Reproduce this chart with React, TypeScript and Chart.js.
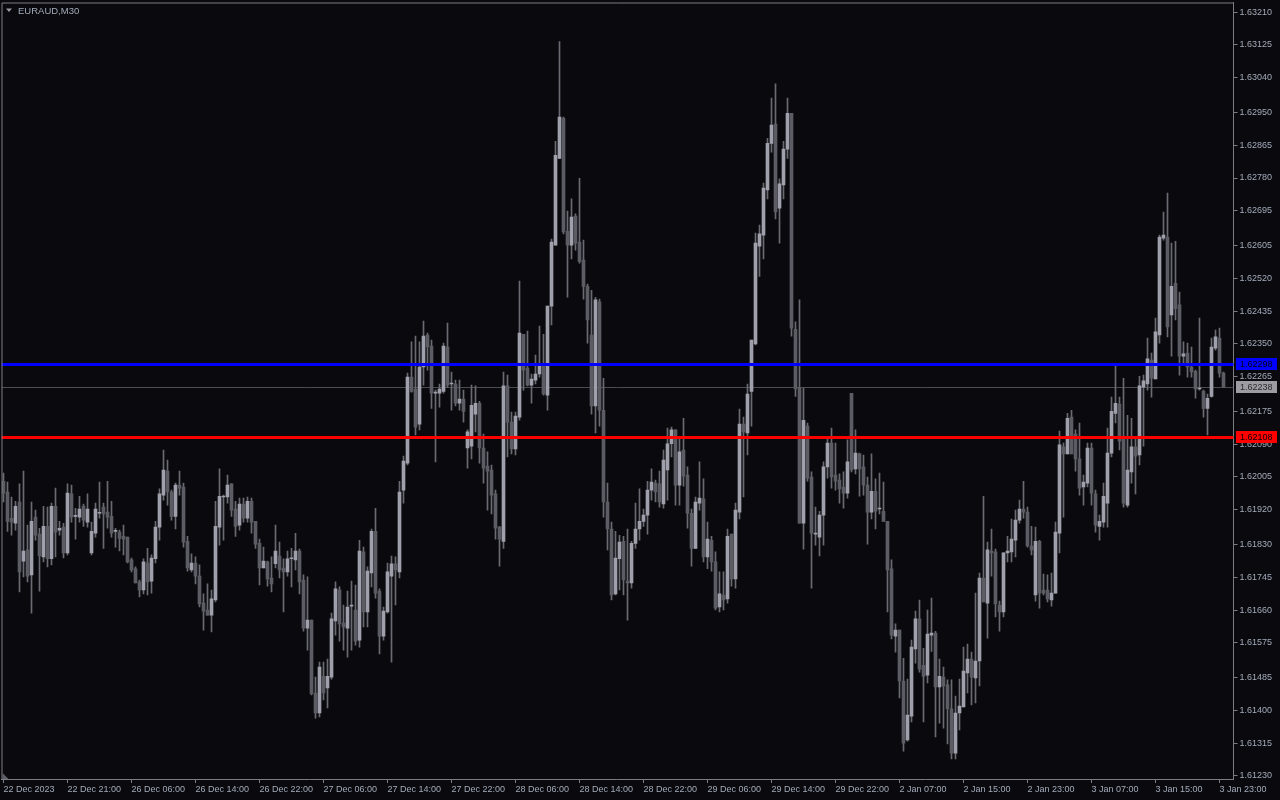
import React, { useEffect, useRef } from 'react';
import { Chart, registerables } from 'chart.js';

Chart.register(...registerables);

const TITLE = 'EURAUD,M30';
const BG = '#0a0a0e';
const AXIS_COLOR = '#7c7c84';
const TEXT_COLOR = '#a3abba';
const BULL_COLOR = '#a0a0ac';
const BEAR_COLOR = '#5c5c64';
const WICK_COLOR = '#6a6a72';
const FONT_FAMILY = "'Liberation Sans', Arial, sans-serif";

const SLOT_COUNT = 308;
const BARS_PER_LABEL = 16;
const X_TICK_LABELS = [
  '22 Dec 2023', '22 Dec 21:00', '26 Dec 06:00', '26 Dec 14:00', '26 Dec 22:00',
  '27 Dec 06:00', '27 Dec 14:00', '27 Dec 22:00', '28 Dec 06:00', '28 Dec 14:00',
  '28 Dec 22:00', '29 Dec 06:00', '29 Dec 14:00', '29 Dec 22:00', '2 Jan 07:00',
  '2 Jan 15:00', '2 Jan 23:00', '3 Jan 07:00', '3 Jan 15:00', '3 Jan 23:00',
];
const Y_TICKS = [
  1.6321, 1.63125, 1.6304, 1.6295, 1.62865, 1.6278, 1.62695, 1.62605, 1.6252, 1.62435,
  1.6235, 1.62265, 1.62175, 1.6209, 1.62005, 1.6192, 1.6183, 1.61745, 1.6166, 1.61575,
  1.61485, 1.614, 1.61315, 1.6123,
];
const Y_MIN = 1.61222;
const Y_MAX = 1.63235;

const LEVEL_BLUE = 1.62298;
const LEVEL_RED = 1.62108;
const LAST_PRICE = 1.62238;

const OPEN = [
  1.61994, 1.61966, 1.61898, 1.61885, 1.6194, 1.61787, 1.61816, 1.61751, 1.61901, 1.61857,
  1.61798, 1.61877, 1.61793, 1.61929, 1.61867, 1.61875, 1.61808, 1.61961, 1.61903, 1.61901,
  1.61929, 1.61888, 1.61808, 1.61859, 1.61911, 1.61927, 1.61914, 1.61903, 1.61864, 1.61862,
  1.61851, 1.61849, 1.6179, 1.61767, 1.61733, 1.61712, 1.61782, 1.61735, 1.61793, 1.61875,
  1.61958, 1.6202, 1.61966, 1.61903, 1.61984, 1.61979, 1.61838, 1.61764, 1.61782, 1.61748,
  1.61678, 1.6166, 1.61647, 1.61686, 1.61875, 1.61953, 1.61953, 1.61987, 1.61922, 1.6188,
  1.61935, 1.61898, 1.61942, 1.6189, 1.61833, 1.61769, 1.61785, 1.61743, 1.6178, 1.618,
  1.61769, 1.61759, 1.61793, 1.6179, 1.61813, 1.61738, 1.61613, 1.61634, 1.61445, 1.61393,
  1.61488, 1.61458, 1.61486, 1.61632, 1.61712, 1.61626, 1.61613, 1.6167, 1.6166, 1.61582,
  1.61811, 1.61655, 1.61756, 1.61864, 1.61709, 1.61592, 1.61655, 1.61748, 1.6178, 1.61759,
  1.61971, 1.62041, 1.62264, 1.62233, 1.62142, 1.6229, 1.62373, 1.62344, 1.62222, 1.62222,
  1.62227, 1.62342, 1.62246, 1.62246, 1.62196, 1.62207, 1.6208, 1.62085, 1.62168, 1.62196,
  1.6208, 1.62033, 1.62023, 1.61961, 1.61875, 1.61838, 1.62241, 1.62147, 1.62078, 1.6216,
  1.62375, 1.62287, 1.62243, 1.62256, 1.62272, 1.62292, 1.62217, 1.62448, 1.62606, 1.62831,
  1.62935, 1.62642, 1.62606, 1.62681, 1.62614, 1.62567, 1.62499, 1.62373, 1.62189, 1.62459,
  1.62178, 1.6194, 1.6187, 1.61702, 1.61793, 1.61838, 1.61735, 1.6173, 1.61833, 1.6187,
  1.6189, 1.61906, 1.61971, 1.61989, 1.61987, 1.61935, 1.62023, 1.62091, 1.62127, 1.61984,
  1.62075, 1.6201, 1.61911, 1.6182, 1.61937, 1.61948, 1.61798, 1.61841, 1.61785, 1.61668,
  1.61699, 1.61689, 1.61857, 1.61741, 1.61914, 1.62142, 1.62119, 1.62227, 1.6235, 1.62603,
  1.62632, 1.62749, 1.6287, 1.6292, 1.62702, 1.62762, 1.62855, 1.62948, 1.62388, 1.62235,
  1.61885, 1.62137, 1.62005, 1.61857, 1.61849, 1.61906, 1.62031, 1.62093, 1.6201, 1.61997,
  1.61979, 1.61963, 1.62222, 1.62026, 1.62065, 1.62031, 1.61984, 1.61914, 1.61968, 1.61922,
  1.61916, 1.6189, 1.61767, 1.61592, 1.61608, 1.61476, 1.61323, 1.61385, 1.61559, 1.61637,
  1.61517, 1.61491, 1.61595, 1.616, 1.61461, 1.61486, 1.61466, 1.61404, 1.61289, 1.61393,
  1.61409, 1.61497, 1.61533, 1.61484, 1.61528, 1.61743, 1.61678, 1.61813, 1.61811, 1.61673,
  1.61655, 1.61808, 1.61811, 1.61841, 1.61893, 1.61922, 1.61914, 1.61826, 1.61699, 1.61838,
  1.61712, 1.61712, 1.61686, 1.61704, 1.61859, 1.62083, 1.62065, 1.6216, 1.62116, 1.62052,
  1.61979, 1.61989, 1.6208, 1.61961, 1.61877, 1.61888, 1.61937, 1.62067, 1.6217, 1.62194,
  1.62106, 1.61932, 1.62018, 1.62083, 1.62062, 1.62238, 1.62246, 1.62308, 1.62259, 1.62373,
  1.62624, 1.62627, 1.62425, 1.62507, 1.62451, 1.62318, 1.62326, 1.6229, 1.62279, 1.62233,
  1.62227, 1.62183, 1.62214, 1.62339, 1.62365, 1.62274,
];

const HIGH = [
  1.62015, 1.61992, 1.61953, 1.61942, 1.61987, 1.6202, 1.6188, 1.6194, 1.61919, 1.61872,
  1.61929, 1.61927, 1.61937, 1.61976, 1.6189, 1.61885, 1.61987, 1.61984, 1.61924, 1.61955,
  1.61935, 1.61961, 1.61888, 1.61937, 1.61992, 1.61937, 1.61994, 1.61942, 1.61872, 1.61867,
  1.6188, 1.61849, 1.61795, 1.61772, 1.61738, 1.61793, 1.6182, 1.61803, 1.6189, 1.61974,
  1.62075, 1.62049, 1.61971, 1.61989, 1.6202, 1.61989, 1.61851, 1.61806, 1.61798, 1.61777,
  1.61702, 1.61728, 1.61712, 1.61942, 1.62026, 1.61958, 1.6201, 1.61987, 1.61942, 1.6195,
  1.6195, 1.61953, 1.6195, 1.6189, 1.61844, 1.61823, 1.61787, 1.61798, 1.6188, 1.61836,
  1.61793, 1.61813, 1.6182, 1.61859, 1.61818, 1.61751, 1.61746, 1.61634, 1.61486, 1.61525,
  1.61525, 1.61533, 1.61652, 1.61733, 1.6172, 1.61673, 1.61709, 1.61735, 1.61725, 1.61841,
  1.61823, 1.61772, 1.6187, 1.61924, 1.61715, 1.61668, 1.61782, 1.618, 1.61798, 1.61994,
  1.62059, 1.62274, 1.62355, 1.6237, 1.62355, 1.62409, 1.62378, 1.6236, 1.6223, 1.62246,
  1.62352, 1.62404, 1.62277, 1.62256, 1.62256, 1.6223, 1.62127, 1.62243, 1.62241, 1.62201,
  1.62116, 1.6207, 1.62036, 1.61971, 1.61877, 1.62277, 1.62269, 1.62173, 1.62173, 1.62513,
  1.62375, 1.62383, 1.62272, 1.62321, 1.62396, 1.62375, 1.62448, 1.62622, 1.62875, 1.63134,
  1.62938, 1.62694, 1.62726, 1.62687, 1.62779, 1.62619, 1.62505, 1.62489, 1.62471, 1.62466,
  1.62261, 1.61989, 1.61888, 1.61864, 1.61854, 1.61851, 1.6187, 1.61838, 1.61937, 1.61974,
  1.61922, 1.61994, 1.62026, 1.61997, 1.6202, 1.62075, 1.62132, 1.62134, 1.62127, 1.62106,
  1.62157, 1.62031, 1.61922, 1.61953, 1.62044, 1.62, 1.61888, 1.61851, 1.61811, 1.61759,
  1.61759, 1.6187, 1.61857, 1.61937, 1.62181, 1.6216, 1.62246, 1.6236, 1.62637, 1.62658,
  1.62767, 1.62883, 1.62987, 1.63024, 1.62778, 1.62875, 1.62987, 1.62948, 1.62407, 1.62464,
  1.62235, 1.62145, 1.62018, 1.61927, 1.61916, 1.62044, 1.62106, 1.62132, 1.62093, 1.62013,
  1.62018, 1.62101, 1.62222, 1.62127, 1.62067, 1.62062, 1.62005, 1.62065, 1.62, 1.62015,
  1.61992, 1.6189, 1.6179, 1.61624, 1.61608, 1.61535, 1.61481, 1.61582, 1.61657, 1.61686,
  1.61561, 1.6166, 1.61691, 1.61605, 1.61533, 1.61512, 1.61479, 1.61479, 1.61437, 1.61481,
  1.61564, 1.61572, 1.61551, 1.61704, 1.61756, 1.61955, 1.61836, 1.6187, 1.61818, 1.61683,
  1.61808, 1.61851, 1.61896, 1.61919, 1.61945, 1.61994, 1.61927, 1.61877, 1.61875, 1.61841,
  1.61753, 1.61751, 1.61756, 1.61888, 1.62124, 1.62093, 1.6217, 1.62178, 1.62127, 1.62145,
  1.6201, 1.62093, 1.62093, 1.61971, 1.61906, 1.61989, 1.62132, 1.62212, 1.62295, 1.62212,
  1.62261, 1.62165, 1.62157, 1.62109, 1.62266, 1.62269, 1.62365, 1.62326, 1.62417, 1.62632,
  1.62692, 1.62741, 1.62611, 1.62616, 1.62484, 1.62355, 1.62352, 1.62342, 1.62282, 1.62417,
  1.6223, 1.6222, 1.62365, 1.62386, 1.62391, 1.62277,
];

const LOW = [
  1.6194, 1.61864, 1.61854, 1.61867, 1.61707, 1.61746, 1.61733, 1.61652, 1.61841, 1.61709,
  1.61785, 1.61772, 1.61777, 1.61798, 1.61854, 1.61795, 1.61803, 1.61888, 1.61844, 1.61888,
  1.61877, 1.61875, 1.61803, 1.61849, 1.61898, 1.6182, 1.61872, 1.61849, 1.61823, 1.61813,
  1.61803, 1.61782, 1.61759, 1.6173, 1.61694, 1.61702, 1.61699, 1.61704, 1.61782, 1.61841,
  1.61945, 1.61932, 1.61893, 1.6187, 1.61958, 1.61823, 1.61761, 1.61759, 1.61728, 1.61668,
  1.61608, 1.61647, 1.61603, 1.61681, 1.61828, 1.61841, 1.61937, 1.61903, 1.61851, 1.61867,
  1.61888, 1.61888, 1.61859, 1.6182, 1.61725, 1.61769, 1.61722, 1.61707, 1.61769, 1.61743,
  1.61655, 1.61748, 1.6172, 1.61764, 1.61702, 1.61605, 1.61556, 1.6144, 1.6138, 1.61383,
  1.61427, 1.61406, 1.61481, 1.61595, 1.61579, 1.61556, 1.61538, 1.61556, 1.61569, 1.61564,
  1.61616, 1.61616, 1.6172, 1.61691, 1.61546, 1.61582, 1.61652, 1.61525, 1.61673, 1.61743,
  1.61937, 1.62036, 1.62225, 1.62114, 1.62127, 1.62243, 1.62282, 1.62183, 1.62044, 1.62186,
  1.62222, 1.62238, 1.62178, 1.62189, 1.62178, 1.62147, 1.62028, 1.62052, 1.62122, 1.62041,
  1.61989, 1.61919, 1.61909, 1.61844, 1.61774, 1.6182, 1.62057, 1.62065, 1.62062, 1.62152,
  1.6223, 1.62241, 1.62196, 1.62246, 1.62264, 1.62217, 1.62178, 1.62399, 1.62606, 1.62831,
  1.62635, 1.62471, 1.6257, 1.62593, 1.62559, 1.62466, 1.62352, 1.62168, 1.62119, 1.62137,
  1.61901, 1.61816, 1.61686, 1.61699, 1.61712, 1.61699, 1.61634, 1.61717, 1.6182, 1.61841,
  1.61877, 1.61857, 1.61945, 1.6194, 1.61927, 1.61924, 1.61945, 1.62057, 1.61932, 1.61932,
  1.61981, 1.61872, 1.61774, 1.6194, 1.61919, 1.61785, 1.61767, 1.61761, 1.6166, 1.61655,
  1.6166, 1.61678, 1.61722, 1.61717, 1.61896, 1.61953, 1.62062, 1.62137, 1.62347, 1.62525,
  1.6257, 1.62726, 1.62847, 1.62674, 1.62611, 1.62726, 1.62831, 1.6237, 1.62214, 1.61885,
  1.61818, 1.61994, 1.61717, 1.61828, 1.618, 1.61828, 1.62002, 1.61976, 1.61971, 1.61937,
  1.61924, 1.6195, 1.62018, 1.62013, 1.61955, 1.61958, 1.61831, 1.61896, 1.6187, 1.61909,
  1.6189, 1.61655, 1.61585, 1.61551, 1.61432, 1.61294, 1.6132, 1.6137, 1.61522, 1.61499,
  1.6137, 1.61471, 1.61553, 1.61331, 1.61367, 1.61354, 1.61313, 1.61274, 1.61274, 1.61349,
  1.61409, 1.61445, 1.61414, 1.61419, 1.61463, 1.61681, 1.61587, 1.61748, 1.61642, 1.61605,
  1.61642, 1.61785, 1.61785, 1.61798, 1.61885, 1.61898, 1.61823, 1.61803, 1.61683, 1.61665,
  1.61699, 1.61681, 1.6167, 1.61704, 1.61808, 1.61901, 1.62065, 1.62065, 1.6202, 1.61958,
  1.61932, 1.61979, 1.61932, 1.61862, 1.61841, 1.61875, 1.61875, 1.62057, 1.62145, 1.62075,
  1.61927, 1.61927, 1.61989, 1.61961, 1.62036, 1.62085, 1.6223, 1.62212, 1.62259, 1.62352,
  1.62619, 1.62368, 1.62318, 1.62412, 1.62269, 1.623, 1.62264, 1.62264, 1.62209, 1.6223,
  1.6216, 1.62114, 1.62212, 1.62334, 1.62264, 1.62238,
];

const CLOSE = [
  1.61963, 1.6189, 1.61888, 1.61929, 1.61759, 1.61813, 1.61748, 1.6189, 1.61854, 1.618,
  1.61877, 1.61793, 1.61929, 1.61862, 1.61872, 1.61808, 1.61963, 1.61901, 1.61903, 1.61922,
  1.61893, 1.61922, 1.61864, 1.61922, 1.61911, 1.61909, 1.61901, 1.61859, 1.61864, 1.61846,
  1.61844, 1.61785, 1.61764, 1.6173, 1.61712, 1.61785, 1.61733, 1.61795, 1.61875, 1.61961,
  1.62023, 1.61966, 1.61903, 1.61984, 1.61976, 1.61836, 1.61769, 1.61782, 1.61748, 1.61676,
  1.61657, 1.61647, 1.61689, 1.61877, 1.61955, 1.61953, 1.61984, 1.61919, 1.61877, 1.61935,
  1.61898, 1.61942, 1.61888, 1.61831, 1.61769, 1.61787, 1.61741, 1.61728, 1.61813, 1.61764,
  1.61759, 1.61793, 1.61793, 1.61813, 1.61733, 1.61613, 1.61634, 1.61443, 1.61393, 1.61512,
  1.61445, 1.61488, 1.61637, 1.61715, 1.61624, 1.61616, 1.61668, 1.6167, 1.61579, 1.61813,
  1.61655, 1.61761, 1.61864, 1.61704, 1.61592, 1.61657, 1.61759, 1.6178, 1.61764, 1.61966,
  1.62046, 1.62264, 1.62227, 1.62134, 1.6229, 1.6237, 1.62342, 1.62222, 1.62225, 1.62233,
  1.62344, 1.62243, 1.62246, 1.62196, 1.62207, 1.62175, 1.62122, 1.62191, 1.62196, 1.6208,
  1.62028, 1.6202, 1.61958, 1.61872, 1.61844, 1.62241, 1.62147, 1.62078, 1.62163, 1.62378,
  1.62282, 1.62243, 1.62259, 1.62272, 1.62292, 1.6222, 1.62448, 1.62614, 1.62839, 1.62938,
  1.6264, 1.62606, 1.62679, 1.62611, 1.62564, 1.62499, 1.62412, 1.62189, 1.62464, 1.62178,
  1.6194, 1.6187, 1.61699, 1.61795, 1.61836, 1.61738, 1.6173, 1.61833, 1.6187, 1.6189,
  1.61906, 1.61971, 1.61992, 1.61966, 1.6194, 1.62049, 1.62091, 1.62127, 1.61984, 1.6207,
  1.62007, 1.61911, 1.6182, 1.6194, 1.6195, 1.61798, 1.61844, 1.61785, 1.61665, 1.61702,
  1.61686, 1.61851, 1.61741, 1.61919, 1.62142, 1.62122, 1.6222, 1.6236, 1.62611, 1.62635,
  1.62754, 1.6287, 1.62917, 1.62692, 1.62765, 1.62855, 1.62948, 1.62391, 1.62233, 1.61885,
  1.62152, 1.62002, 1.61859, 1.61857, 1.61906, 1.62031, 1.62093, 1.62005, 1.61994, 1.61974,
  1.61963, 1.62044, 1.62023, 1.62067, 1.62026, 1.61984, 1.61914, 1.61968, 1.61916, 1.61922,
  1.6189, 1.61764, 1.61595, 1.61608, 1.61476, 1.61315, 1.61388, 1.61564, 1.61637, 1.61507,
  1.61488, 1.61598, 1.616, 1.61461, 1.61488, 1.61463, 1.61404, 1.61289, 1.61393, 1.61411,
  1.61502, 1.61533, 1.61486, 1.61528, 1.61743, 1.61681, 1.61816, 1.61808, 1.61676, 1.61655,
  1.61808, 1.61813, 1.61844, 1.61893, 1.61922, 1.61914, 1.61826, 1.61816, 1.61838, 1.61704,
  1.61704, 1.61689, 1.61704, 1.61862, 1.62088, 1.62065, 1.62157, 1.62065, 1.62052, 1.61976,
  1.61992, 1.6208, 1.61963, 1.6188, 1.6189, 1.61955, 1.62067, 1.62175, 1.62196, 1.62098,
  1.61937, 1.62023, 1.62083, 1.62059, 1.62241, 1.62254, 1.62311, 1.62261, 1.62381, 1.62627,
  1.62632, 1.62394, 1.62499, 1.62441, 1.62318, 1.62324, 1.6229, 1.62277, 1.62233, 1.62233,
  1.62183, 1.62209, 1.62342, 1.62368, 1.62274, 1.62238,
];

const fmt = (v: number) => v.toFixed(5);

export default function App() {
  const canvasRef = useRef<HTMLCanvasElement | null>(null);

  useEffect(() => {
    document.body.style.margin = '0';
    document.body.style.background = BG;
    const canvas = canvasRef.current;
    if (!canvas) return;

    const slots = Array.from({ length: SLOT_COUNT }, (_, i) => String(i));
    const bodies = OPEN.map((o, i) => [o, CLOSE[i]]);
    const wicks = OPEN.map((o, i) => [
      Math.min(LOW[i], o, CLOSE[i]),
      Math.max(HIGH[i], o, CLOSE[i]),
    ]);
    const bodyColors = OPEN.map((o, i) => (CLOSE[i] >= o ? BULL_COLOR : BEAR_COLOR));

    const decorPlugin = {
      id: 'decor',
      beforeDraw(chart: any) {
        const { ctx, width, height } = chart;
        ctx.save();
        ctx.fillStyle = BG;
        ctx.fillRect(0, 0, width, height);
        ctx.restore();
      },
      beforeDatasetsDraw(chart: any) {
        const { ctx, chartArea } = chart;
        const ys = chart.scales.y;
        const y = Math.round(ys.getPixelForValue(LAST_PRICE)) + 0.5;
        ctx.save();
        ctx.strokeStyle = '#4c4c54';
        ctx.lineWidth = 1;
        ctx.beginPath();
        ctx.moveTo(chartArea.left, y);
        ctx.lineTo(chartArea.right, y);
        ctx.stroke();
        ctx.restore();
      },
      afterDatasetsDraw(chart: any) {
        const { ctx, chartArea } = chart;
        const ys = chart.scales.y;
        ctx.save();
        const level = (price: number, color: string) => {
          const y = Math.round(ys.getPixelForValue(price));
          ctx.fillStyle = color;
          ctx.fillRect(chartArea.left, y - 1, chartArea.right - chartArea.left, 3);
        };
        level(LEVEL_BLUE, '#0000ff');
        level(LEVEL_RED, '#ff0000');
        ctx.restore();
      },
      afterDraw(chart: any) {
        const { ctx, chartArea } = chart;
        const ys = chart.scales.y;
        ctx.save();
        // frame top & left
        ctx.strokeStyle = AXIS_COLOR;
        ctx.lineWidth = 1;
        ctx.beginPath();
        ctx.moveTo(chartArea.left + 0.5, chartArea.bottom);
        ctx.lineTo(chartArea.left + 0.5, chartArea.top + 0.5);
        ctx.lineTo(chartArea.right, chartArea.top + 0.5);
        ctx.stroke();
        // title
        ctx.fillStyle = '#9a9aa4';
        ctx.beginPath();
        ctx.moveTo(6, 8.5);
        ctx.lineTo(12, 8.5);
        ctx.lineTo(9, 12);
        ctx.closePath();
        ctx.fill();
        ctx.fillStyle = TEXT_COLOR;
        ctx.font = `9.5px ${FONT_FAMILY}`;
        ctx.textBaseline = 'middle';
        ctx.textAlign = 'left';
        ctx.fillText(TITLE, 18, 11);
        // corner marker
        ctx.fillStyle = '#5e5e6a';
        ctx.beginPath();
        ctx.moveTo(chartArea.left + 1, chartArea.bottom - 6);
        ctx.lineTo(chartArea.left + 1, chartArea.bottom);
        ctx.lineTo(chartArea.left + 7, chartArea.bottom);
        ctx.closePath();
        ctx.fill();
        // price tags
        const tag = (price: number, bg: string, fg: string) => {
          const y = Math.round(ys.getPixelForValue(price));
          ctx.fillStyle = bg;
          ctx.fillRect(1236, y - 6, 41, 12);
          ctx.fillStyle = fg;
          ctx.font = `9px ${FONT_FAMILY}`;
          ctx.textBaseline = 'middle';
          ctx.fillText(fmt(price), 1240, y + 0.5);
        };
        tag(LAST_PRICE, '#9c9ca2', '#2a2a2e');
        tag(LEVEL_BLUE, '#0000ff', '#000010');
        tag(LEVEL_RED, '#ff0000', '#100000');
        ctx.restore();
      },
    };

    const chart = new Chart(canvas, {
      type: 'bar',
      data: {
        labels: slots,
        datasets: [
          {
            label: 'wick',
            data: wicks as any,
            backgroundColor: WICK_COLOR,
            borderWidth: 0,
            barThickness: 1,
            grouped: false,
            order: 2,
          } as any,
          {
            label: 'body',
            data: bodies as any,
            backgroundColor: bodyColors,
            borderWidth: 0,
            barThickness: 3,
            minBarLength: 1,
            grouped: false,
            order: 1,
          } as any,
        ],
      },
      options: {
        responsive: false,
        animation: false,
        devicePixelRatio: 1,
        layout: { padding: { left: 1.5, top: 2.5, right: 0, bottom: 0 } },
        plugins: {
          legend: { display: false },
          tooltip: { enabled: false },
        },
        scales: {
          x: {
            type: 'category',
            position: 'bottom',
            offset: true,
            grid: {
              display: true,
              drawOnChartArea: false,
              drawTicks: true,
              tickLength: 4,
              color: AXIS_COLOR,
              offset: false,
            },
            border: { display: true, color: AXIS_COLOR, width: 1 },
            ticks: {
              autoSkip: false,
              maxRotation: 0,
              minRotation: 0,
              align: 'start',
              padding: 1,
              color: TEXT_COLOR,
              font: { family: FONT_FAMILY, size: 9 },
              callback: (value: any) => {
                const v = Number(value);
                return X_TICK_LABELS[v / BARS_PER_LABEL] ?? '';
              },
            },
            afterBuildTicks: (axis: any) => {
              axis.ticks = axis.ticks.filter((t: any) => t.value % BARS_PER_LABEL === 0);
            },
            afterFit: (axis: any) => {
              axis.height = 21;
              axis.paddingLeft = 0;
              axis.paddingRight = 0;
            },
          } as any,
          y: {
            type: 'linear',
            position: 'right',
            min: Y_MIN,
            max: Y_MAX,
            grid: {
              display: true,
              drawOnChartArea: false,
              drawTicks: true,
              tickLength: 4,
              color: AXIS_COLOR,
            },
            border: { display: true, color: AXIS_COLOR, width: 1 },
            ticks: {
              padding: 2,
              color: TEXT_COLOR,
              font: { family: FONT_FAMILY, size: 9 },
              callback: (value: any) => fmt(Number(value)),
            },
            afterBuildTicks: (axis: any) => {
              axis.ticks = Y_TICKS.map((v) => ({ value: v }));
            },
            afterFit: (axis: any) => {
              axis.width = 46.5;
              axis.paddingTop = 0;
              axis.paddingBottom = 0;
            },
          } as any,
        },
      },
      plugins: [decorPlugin],
    });

    return () => {
      chart.destroy();
    };
  }, []);

  return (
    <div style={{ width: 1280, height: 800, background: BG, overflow: 'hidden' }}>
      <canvas ref={canvasRef} width={1280} height={800} style={{ display: 'block', width: 1280, height: 800 }} />
    </div>
  );
}
